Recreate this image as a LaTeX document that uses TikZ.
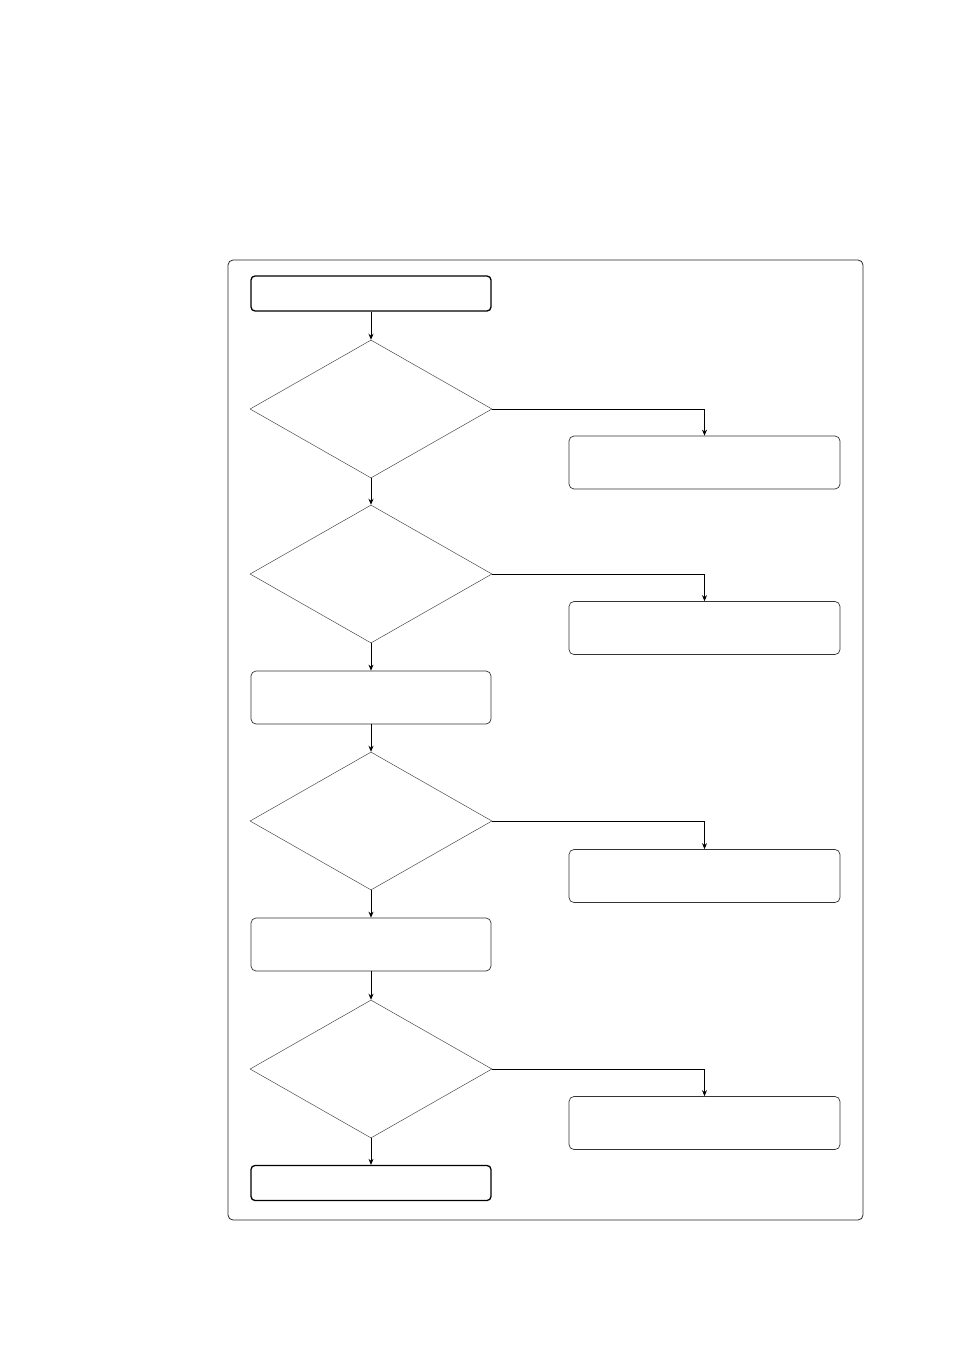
\documentclass[tikz,border=0pt]{standalone}
\usetikzlibrary{shapes.geometric,arrows.meta}
\begin{document}
\begin{tikzpicture}[x=1pt,y=-1pt,
  term/.style={draw=black,line width=1.3pt,rounded corners=4pt,rectangle,inner sep=0pt,minimum width=240pt,minimum height=35pt},
  proc/.style={draw=black!80,line width=0.7pt,rounded corners=5pt,rectangle,inner sep=0pt,minimum width=240pt,minimum height=53pt},
  side/.style={draw=black!80,line width=0.7pt,rounded corners=5pt,rectangle,inner sep=0pt,minimum width=271pt,minimum height=53pt},
  dec/.style={draw=black!70,line width=0.5pt,diamond,inner sep=0pt,minimum width=242pt,minimum height=138pt,aspect=1.75},
  conn/.style={draw=black,line width=0.8pt,-{Stealth[length=6pt,width=5pt]}},
  line/.style={draw=black,line width=0.8pt}]
\useasboundingbox (0,0) rectangle (954,1351);
\draw[black!85,line width=0.8pt,rounded corners=5pt] (228,260) rectangle (863,1220);
\node[term] (start) at (371,293.5) {};
\node[dec] (d1) at (371,409) {};
\node[side] (r1) at (704.5,462.5) {};
\node[dec] (d2) at (371,574) {};
\node[side] (r2) at (704.5,628) {};
\node[proc] (p1) at (371,697.5) {};
\node[dec] (d3) at (371,821) {};
\node[side] (r3) at (704.5,876) {};
\node[proc] (p2) at (371,944.5) {};
\node[dec] (d4) at (371,1069) {};
\node[side] (r4) at (704.5,1123) {};
\node[term] (stop) at (371,1183) {};
\draw[conn] (start.south) -- (d1.north);
\draw[conn] (d1.south) -- (d2.north);
\draw[conn] (d2.south) -- (p1.north);
\draw[conn] (p1.south) -- (d3.north);
\draw[conn] (d3.south) -- (p2.north);
\draw[conn] (p2.south) -- (d4.north);
\draw[conn] (d4.south) -- (stop.north);
\draw[conn] (d1.east) -| (r1.north);
\draw[conn] (d2.east) -| (r2.north);
\draw[conn] (d3.east) -| (r3.north);
\draw[conn] (d4.east) -| (r4.north);
\end{tikzpicture}
\end{document}
